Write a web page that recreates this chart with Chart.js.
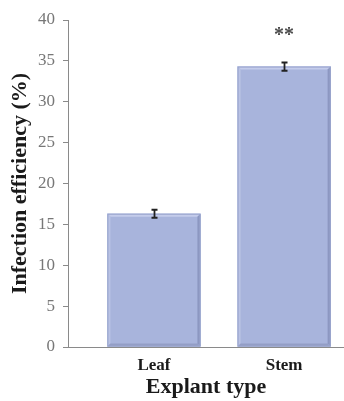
<!DOCTYPE html>
<html>
<head>
<meta charset="utf-8">
<script src="https://cdn.jsdelivr.net/npm/chart.js@4.4.1/dist/chart.umd.min.js"></script>
<style>
  html, body { margin: 0; padding: 0; background: #fff; }
  #wrap { width: 344px; height: 401px; position: relative; }
</style>
</head>
<body>
<div id="wrap"><canvas id="c" width="344" height="401"></canvas></div>
<script>
// Explant types and their infection efficiency (%), mean and error
const categories = ['Leaf', 'Stem'];
const efficiency = [16.3, 34.3];
const errors = [0.5, 0.5];
const significance = ['', '**'];
const yTicks = [0, 5, 10, 15, 20, 25, 30, 35, 40];

const SERIF = '"Liberation Serif", "Times New Roman", serif';

// Bars sit at x = 0, 1 on a linear axis so the baseline can run from the y axis to the right edge
const points = categories.map((c, i) => ({ x: i, y: efficiency[i] }));

const bevelPlugin = {
  id: 'bevel',
  afterDatasetsDraw(chart) {
    const ctx = chart.ctx;
    const meta = chart.getDatasetMeta(0);
    const yScale = chart.scales.y;
    meta.data.forEach((bar, i) => {
      const w = bar.width;
      const l = bar.x - w / 2, r = bar.x + w / 2;
      const t = bar.y, b = bar.base;
      const e = 3;
      ctx.save();
      // top highlight
      ctx.fillStyle = '#c4cceb';
      ctx.beginPath();
      ctx.moveTo(l, t); ctx.lineTo(r, t); ctx.lineTo(r - e, t + e); ctx.lineTo(l + e, t + e); ctx.closePath(); ctx.fill();
      // left highlight
      ctx.fillStyle = '#b9c2e4';
      ctx.beginPath();
      ctx.moveTo(l, t); ctx.lineTo(l + e, t + e); ctx.lineTo(l + e, b - e); ctx.lineTo(l, b); ctx.closePath(); ctx.fill();
      // right shade
      ctx.fillStyle = '#8c97c1';
      ctx.beginPath();
      ctx.moveTo(r, t); ctx.lineTo(r, b); ctx.lineTo(r - e, b - e); ctx.lineTo(r - e, t + e); ctx.closePath(); ctx.fill();
      // bottom shade
      ctx.fillStyle = '#939ec6';
      ctx.beginPath();
      ctx.moveTo(l, b); ctx.lineTo(r, b); ctx.lineTo(r - e, b - e); ctx.lineTo(l + e, b - e); ctx.closePath(); ctx.fill();
      // outline
      ctx.strokeStyle = '#9aa5cd';
      ctx.lineWidth = 1;
      ctx.strokeRect(l + 0.5, t + 0.5, w - 1, b - t - 1);

      // error bar
      const v = efficiency[i], err = errors[i];
      const yHi = yScale.getPixelForValue(v + err);
      const yLo = yScale.getPixelForValue(v - err);
      const cx = Math.round(bar.x) + 0.5;
      ctx.strokeStyle = '#222';
      ctx.lineWidth = 1.8;
      ctx.beginPath();
      ctx.moveTo(cx, yHi); ctx.lineTo(cx, yLo);
      ctx.stroke();
      ctx.lineWidth = 2;
      ctx.beginPath();
      ctx.moveTo(cx - 3, yHi); ctx.lineTo(cx + 3, yHi);
      ctx.moveTo(cx - 3, yLo); ctx.lineTo(cx + 3, yLo);
      ctx.stroke();

      // significance mark
      if (significance[i]) {
        ctx.fillStyle = '#4a4a4a';
        ctx.font = 'bold 20px ' + SERIF;
        ctx.textAlign = 'center';
        ctx.textBaseline = 'middle';
        ctx.fillText(significance[i], bar.x, yScale.getPixelForValue(v + err) - 27);
      }
      ctx.restore();
    });
  }
};

new Chart(document.getElementById('c'), {
  type: 'bar',
  data: {
    datasets: [{
      data: points,
      backgroundColor: '#a8b4dc',
      borderWidth: 0,
      barThickness: 93
    }]
  },
  options: {
    responsive: false,
    animation: false,
    events: [],
    layout: { padding: { left: 0, right: 0, top: 20, bottom: 0 } },
    plugins: { legend: { display: false }, tooltip: { enabled: false } },
    scales: {
      x: {
        type: 'linear',
        offset: false,
        min: -0.66,
        max: 1.46,
        afterBuildTicks(scale) { scale.ticks = categories.map((c, i) => ({ value: i })); },
        afterFit(scale) { scale.height = 54; },
        grid: { display: false, drawTicks: false },
        border: { display: true, color: '#8a8a8a', width: 1 },
        ticks: {
          callback: (v) => categories[v],
          font: { family: SERIF, size: 17, weight: 'bold' },
          color: '#1a1a1a',
          padding: 8,
          maxRotation: 0,
          autoSkip: false
        },
        title: {
          display: true,
          text: 'Explant type',
          font: { family: SERIF, size: 22, weight: 'bold' },
          color: '#1a1a1a',
          padding: { top: 1, bottom: 0 }
        }
      },
      y: {
        min: 0,
        max: 40,
        afterBuildTicks(scale) { scale.ticks = yTicks.map(v => ({ value: v })); },
        afterFit(scale) { scale.width = 68; },
        grid: { display: true, drawOnChartArea: false, drawTicks: true, tickLength: 5, color: '#8a8a8a' },
        border: { display: true, color: '#8a8a8a', width: 1 },
        ticks: {
          font: { family: SERIF, size: 17 },
          color: '#777777',
          padding: 8
        },
        title: {
          display: true,
          text: 'Infection efficiency (%)',
          font: { family: SERIF, size: 22, weight: 'bold' },
          color: '#1a1a1a',
          padding: { top: 7, bottom: 0 }
        }
      }
    }
  },
  plugins: [bevelPlugin]
});
</script>
</body>
</html>
